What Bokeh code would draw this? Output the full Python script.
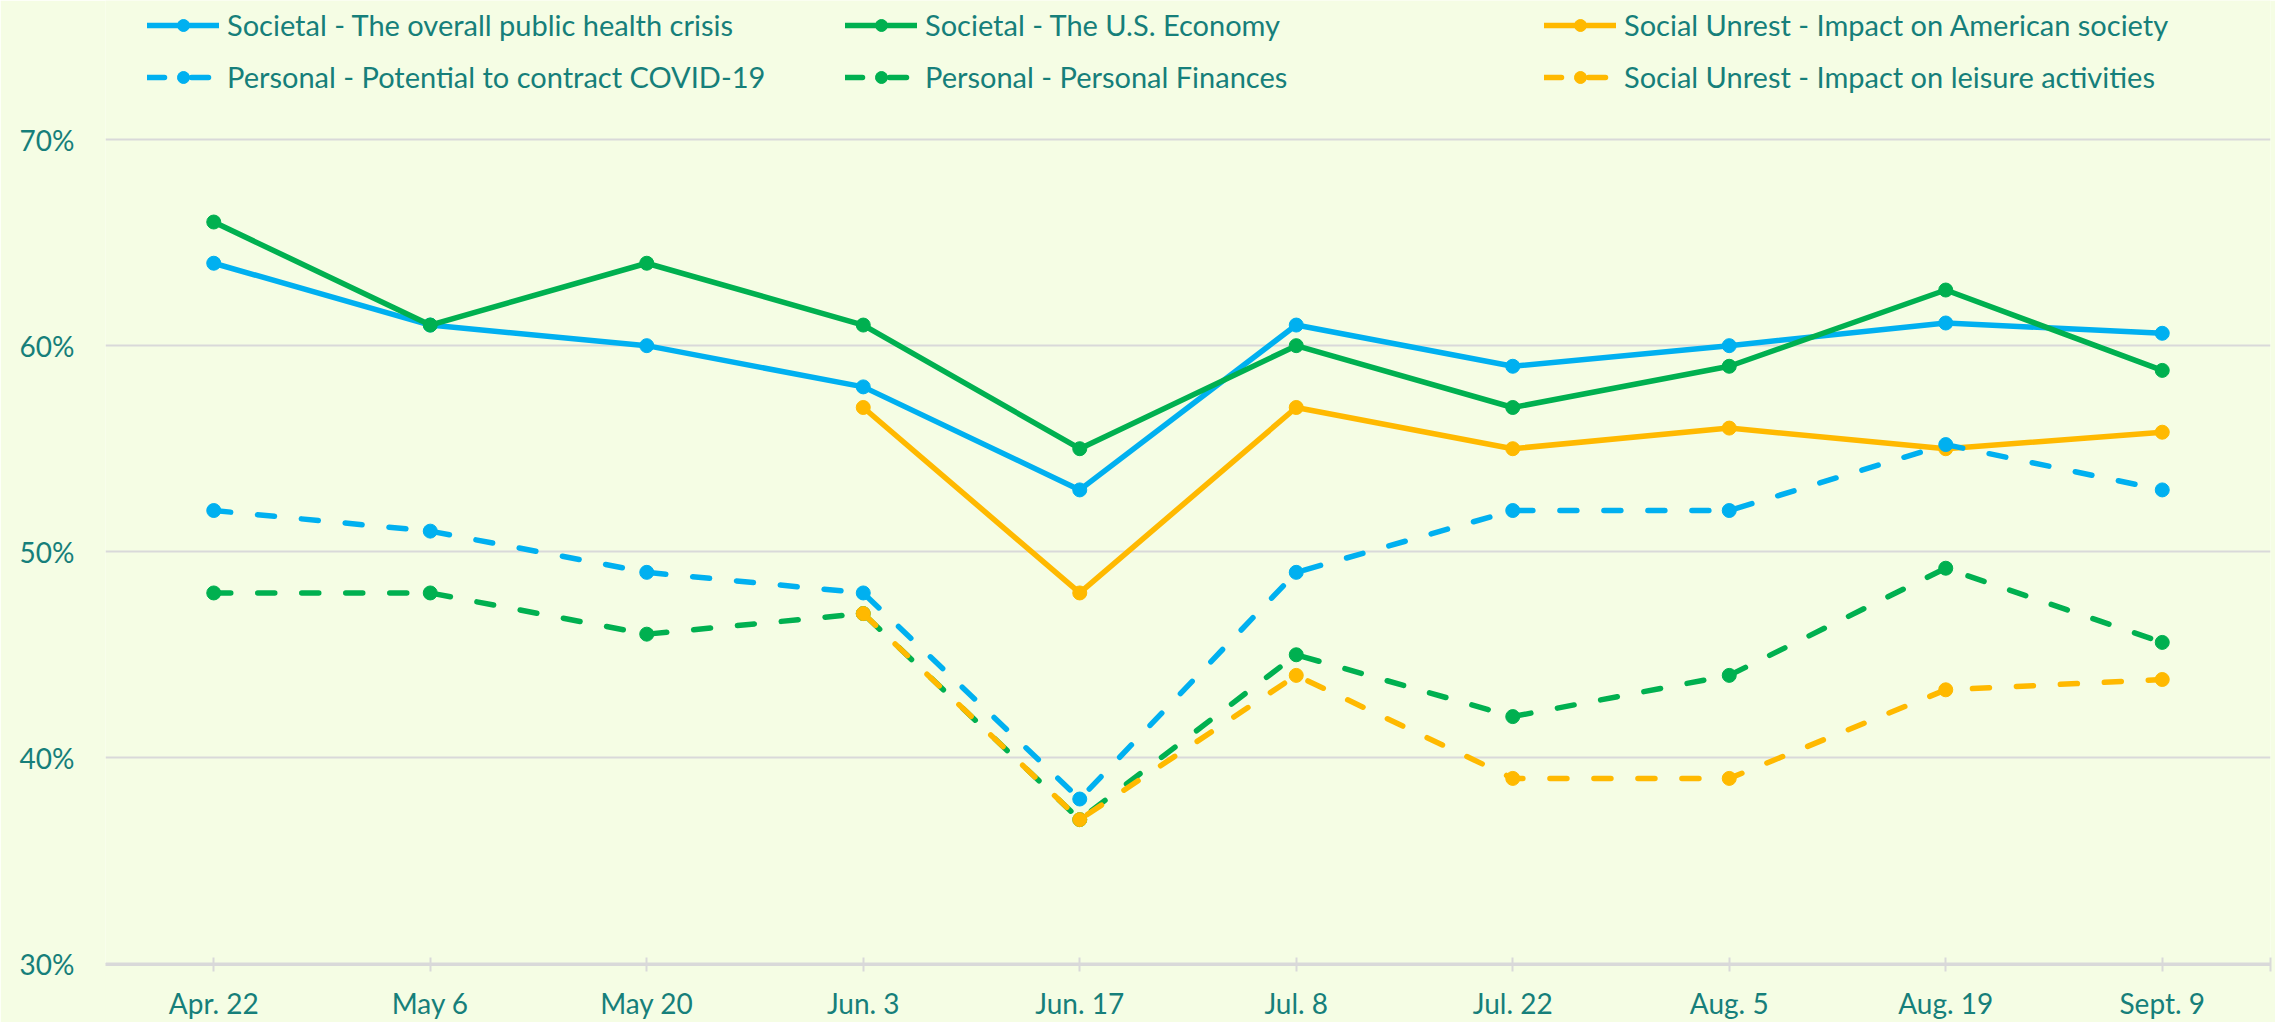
from bokeh.plotting import figure
from bokeh.models import Legend, LegendItem, FixedTicker
from bokeh.embed import file_html
from bokeh.resources import INLINE

categories = ["Apr. 22", "May 6", "May 20", "Jun. 3", "Jun. 17", "Jul. 8", "Jul. 22", "Aug. 5", "Aug. 19", "Sept. 9"]
health = [64, 61, 60, 58, 53, 61, 59, 60, 61.1, 60.6]
economy = [66, 61, 64, 61, 55, 60, 57, 59, 62.7, 58.8]
american = [None, None, None, 57, 48, 57, 55, 56, 55, 55.8]
covid = [52, 51, 49, 48, 38, 49, 52, 52, 55.2, 53]
finances = [48, 48, 46, 47, 37, 45, 42, 44, 49.2, 45.6]
leisure = [None, None, None, 47, 37, 44, 39, 39, 43.3, 43.8]
y_ticks = [30, 40, 50, 60, 70]

BLUE = "#00B0F0"
GREEN = "#00B050"
GOLD = "#FFB900"
TEXT = "#167F7A"
BG = "#F5FDE4"
GRID = "#D9D9D9"
FONT = "Lato"

p = figure(width=2275, height=1022, x_range=(-0.5, 9.5), y_range=(29.97, 76.75),
           output_backend="svg", toolbar_location=None,
           min_border_left=105, min_border_right=5, min_border_top=0, min_border_bottom=57)
p.background_fill_color = BG
p.border_fill_color = BG
p.outline_line_alpha = 0

p.xgrid.visible = False
p.ygrid.grid_line_color = GRID
p.ygrid.grid_line_width = 2
p.yaxis.ticker = FixedTicker(ticks=y_ticks)
p.yaxis.major_label_overrides = {t: f"{t}%" for t in y_ticks}
p.yaxis.axis_line_alpha = 0
p.yaxis.major_tick_line_alpha = 0
p.yaxis.minor_tick_line_alpha = 0
p.yaxis.major_tick_out = 0
p.yaxis.major_tick_in = 0
p.yaxis.major_label_standoff = 31
p.yaxis.major_label_text_font = FONT
p.yaxis.major_label_text_font_size = "28px"
p.yaxis.major_label_text_color = TEXT

x_ticks = list(range(len(categories))) + [len(categories) - 0.5]
labels = {i: c for i, c in enumerate(categories)}
labels[len(categories) - 0.5] = ""
p.xaxis.ticker = FixedTicker(ticks=x_ticks)
p.xaxis.major_label_overrides = labels
p.xaxis.axis_line_color = GRID
p.xaxis.axis_line_width = 3
p.xaxis.major_tick_line_color = GRID
p.xaxis.major_tick_line_width = 2
p.xaxis.major_tick_in = 7
p.xaxis.major_tick_out = 7
p.xaxis.minor_tick_line_alpha = 0
p.xaxis.major_label_standoff = 14
p.xaxis.major_label_text_font = FONT
p.xaxis.major_label_text_font_size = "28px"
p.xaxis.major_label_text_color = TEXT


def series(vals, color, dash):
    xs = [i for i, v in enumerate(vals) if v is not None]
    ys = [v for v in vals if v is not None]
    ln = p.line(xs, ys, line_color=color, line_width=5.5, line_dash=dash, line_cap="round")
    sc = p.scatter(xs, ys, size=14, fill_color=color, line_color=color)
    return [ln, sc]


DASH = "17 27"
r_health = series(health, BLUE, "solid")
r_econ = series(economy, GREEN, "solid")
r_amer = series(american, GOLD, "solid")
r_covid = series(covid, BLUE, DASH)
r_fin = series(finances, GREEN, DASH)
r_leis = series(leisure, GOLD, DASH)

cols = [
    (42, [("Societal - The overall public health crisis", r_health), ("Personal - Potential to contract COVID-19", r_covid)]),
    (740, [("Societal - The U.S. Economy", r_econ), ("Personal - Personal Finances", r_fin)]),
    (1439, [("Social Unrest - Impact on American society", r_amer), ("Social Unrest - Impact on leisure activities", r_leis)]),
]
for x0, items in cols:
    lg = Legend(items=[LegendItem(label=lab, renderers=rs) for lab, rs in items],
                location=(x0, 870), orientation="vertical",
                label_text_font=FONT, label_text_font_size="29px", label_text_color=TEXT,
                glyph_width=72, glyph_height=30, label_height=30, label_standoff=8,
                spacing=17, padding=0, margin=0, border_line_alpha=0, background_fill_alpha=0)
    p.add_layout(lg)

open("out.html", "w").write(file_html(p, INLINE))
